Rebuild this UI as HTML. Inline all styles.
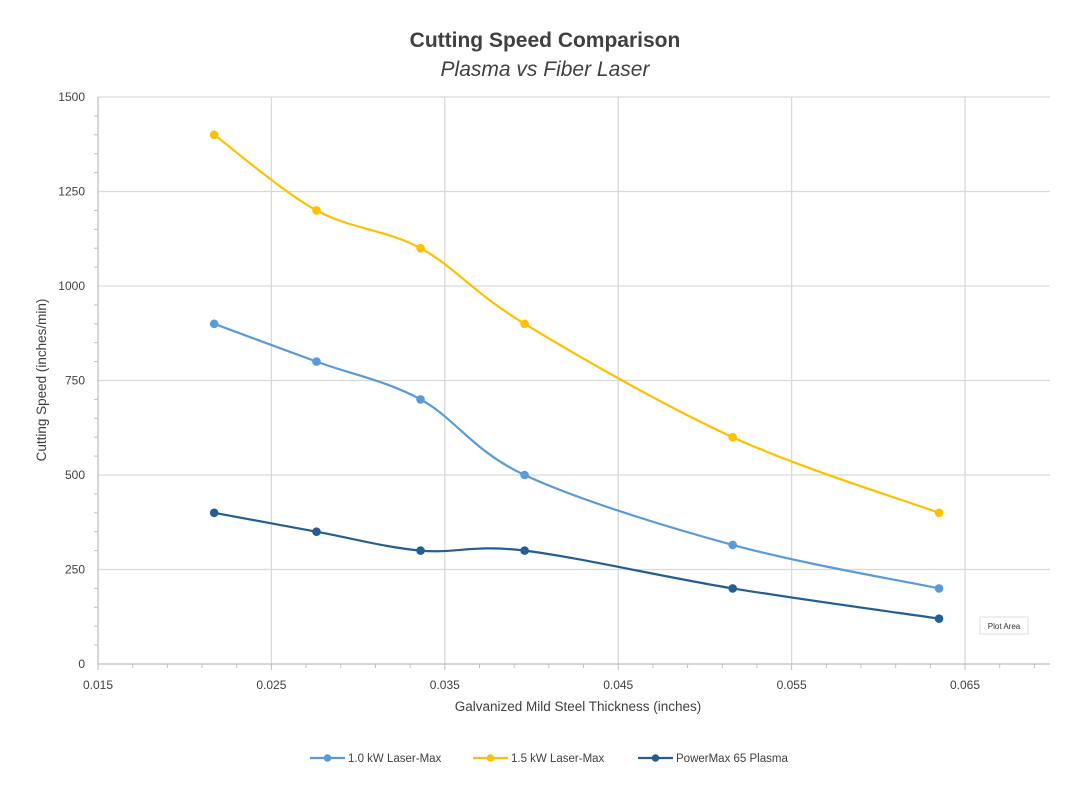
<!DOCTYPE html>
<html><head><meta charset="utf-8"><style>
html,body{margin:0;padding:0;background:#fff;width:1089px;height:790px;overflow:hidden}
svg{display:block;font-family:"Liberation Sans",sans-serif}
</style></head><body>
<svg id="chart" width="1089" height="790" viewBox="0 0 1089 790">
<text x="545" y="47" text-anchor="middle" font-size="21" font-weight="bold" fill="#404040">Cutting Speed Comparison</text>
<text x="545" y="76" text-anchor="middle" font-size="21" font-style="italic" fill="#404040">Plasma vs Fiber Laser</text>
<g id="grid"></g>
<g id="axes"></g>
<g id="series"></g>
<text x="578" y="711" text-anchor="middle" font-size="13.5" fill="#404040">Galvanized Mild Steel Thickness (inches)</text>
<text transform="translate(46,380) rotate(-90)" text-anchor="middle" font-size="13.5" fill="#404040">Cutting Speed (inches/min)</text>
<g>
<rect x="980" y="617" width="48" height="17" fill="#fff" stroke="#ddd"/>
<text x="1004" y="629" text-anchor="middle" font-size="8" fill="#333">Plot Area</text>
</g>
<g id="legend"></g>
</svg>
<script>
const xValues = [0.0217, 0.0276, 0.0336, 0.0396, 0.0516, 0.0635];
const seriesNames = ["1.0 kW Laser-Max", "1.5 kW Laser-Max", "PowerMax 65 Plasma"];
const laser10 = [900, 800, 700, 500, 315, 200];
const laser15 = [1400, 1200, 1100, 900, 600, 400];
const plasma65 = [400, 350, 300, 300, 200, 120];
const xTicks = [0.015, 0.025, 0.035, 0.045, 0.055, 0.065];
const xTickLabels = ["0.015", "0.025", "0.035", "0.045", "0.055", "0.065"];
const yTicks = [0, 250, 500, 750, 1000, 1250, 1500];

const NS = "http://www.w3.org/2000/svg";
const X0 = 98, X1 = 1050, XMIN = 0.015, XMAX = 0.0699;
const Y0 = 664, Y1 = 97, YMIN = 0, YMAX = 1500;
function xs(v){return X0 + (v - XMIN) / (XMAX - XMIN) * (X1 - X0);}
function ys(v){return Y0 - (v - YMIN) / (YMAX - YMIN) * (Y0 - Y1);}
function mk(tag, attrs, parent){const e=document.createElementNS(NS,tag);for(const k in attrs)e.setAttribute(k,attrs[k]);parent.appendChild(e);return e;}

const grid = document.getElementById('grid');
const axes = document.getElementById('axes');
yTicks.forEach((t,i)=>{
  if(t>0){
    const g=mk('line',{x1:X0,x2:X1,y1:ys(t),y2:ys(t),stroke:'#d9d9d9','stroke-width':1.3},grid);
    
    
  }
  const lb=mk('text',{x:X0-13,y:ys(t)+4,'text-anchor':'end','font-size':12,fill:'#404040'},axes);
  lb.textContent=t;
  
  
});
for(let v=0;v<1500;v+=50){
  if(v%250===0) continue;
  const m=mk('line',{x1:X0-4,x2:X0,y1:ys(v),y2:ys(v),stroke:'#bfbfbf'},axes);
  
  
}
xTicks.forEach((t,i)=>{
  if(i>0){
    const g=mk('line',{x1:xs(t),x2:xs(t),y1:Y1,y2:Y0,stroke:'#d9d9d9','stroke-width':1.3},grid);
    
    
  }
  const lb=mk('text',{x:xs(t),y:Y0+25,'text-anchor':'middle','font-size':12,fill:'#404040'},axes);
  lb.textContent=xTickLabels[i];
  
  
});
for(let k=0;k<=27;k++){
  const v=0.015+k*0.002;
  const m=mk('line',{x1:xs(v),x2:xs(v),y1:Y0,y2:Y0+(k%5===0?6:4),stroke:'#bfbfbf'},axes);
  
  
}
const xl=mk('line',{x1:X0,x2:X1,y1:Y0,y2:Y0,stroke:'#bfbfbf','stroke-width':1.3},axes);


const yl=mk('line',{x1:X0,x2:X0,y1:Y1,y2:Y0,stroke:'#bfbfbf','stroke-width':1.3},axes);



function smoothPath(pts){
  let d='M'+pts[0][0]+','+pts[0][1];
  for(let i=0;i<pts.length-1;i++){
    const p0=pts[Math.max(0,i-1)],p1=pts[i],p2=pts[i+1],p3=pts[Math.min(pts.length-1,i+2)];
    const c1=[p1[0]+(p2[0]-p0[0])/6,p1[1]+(p2[1]-p0[1])/6];
    const c2=[p2[0]-(p3[0]-p1[0])/6,p2[1]-(p3[1]-p1[1])/6];
    d+=' C'+c1[0]+','+c1[1]+' '+c2[0]+','+c2[1]+' '+p2[0]+','+p2[1];
  }
  return d;
}
const seriesGroup=document.getElementById('series');
const allSeries=[laser10,laser15,plasma65];
const colors=['#5b9bd5','#ffc000','#255e91'];
const keys=['laser-10kw','laser-15kw','plasma-65'];
allSeries.forEach((vals,s)=>{
  const pts=vals.map((v,i)=>[xs(xValues[i]),ys(v)]);
  const p=mk('path',{d:smoothPath(pts),fill:'none',stroke:colors[s],'stroke-width':2.2},seriesGroup);
  
  
  pts.forEach(pt=>{
    const c=mk('circle',{cx:pt[0],cy:pt[1],r:4.3,fill:colors[s]},seriesGroup);
    
    
  });
});
const legend=document.getElementById('legend');
const lx=[310,473,638];
seriesNames.forEach((n,s)=>{
  const ln=mk('line',{x1:lx[s],x2:lx[s]+35,y1:758,y2:758,stroke:colors[s],'stroke-width':2.2},legend);
  
  
  const c=mk('circle',{cx:lx[s]+17.5,cy:758,r:3.8,fill:colors[s]},legend);
  
  
  const t=mk('text',{x:lx[s]+38,y:762,'font-size':11.5,fill:'#404040'},legend);
  t.textContent=n;
  
  
});
</script>
</body></html>
